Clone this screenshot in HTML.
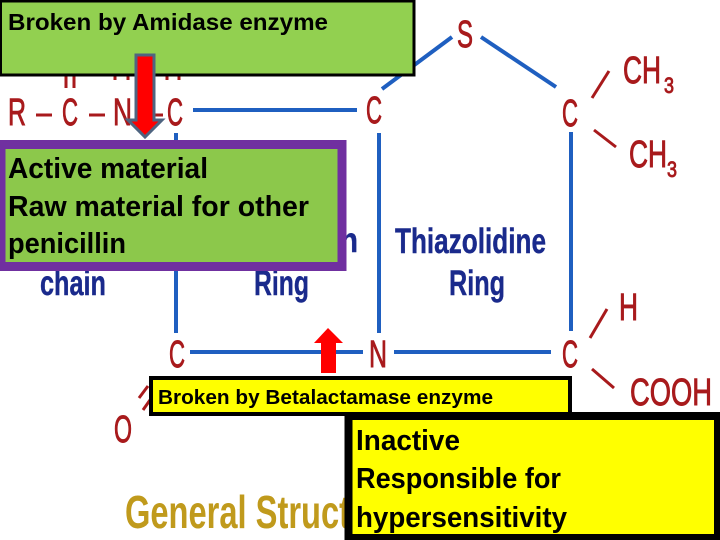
<!DOCTYPE html>
<html><head><meta charset="utf-8"><style>
html,body{margin:0;padding:0;background:#fff}
svg{display:block}
text{font-family:"Liberation Sans",sans-serif}
.r{fill:#a81a1c;stroke:#a81a1c;stroke-width:.9}
.b{fill:#1a2a8c;font-weight:bold;stroke:#1a2a8c;stroke-width:.4}
.k{fill:#000;font-weight:bold}
</style></head><body>
<svg width="720" height="540" viewBox="0 0 720 540" xmlns="http://www.w3.org/2000/svg">
<rect width="720" height="540" fill="#fff"/>
<!-- ring bonds -->
<g stroke="#1f5fc0" stroke-width="4" fill="none">
<line x1="193" y1="110" x2="357" y2="110"/>
<line x1="176" y1="133" x2="176" y2="333"/>
<line x1="379" y1="133" x2="379" y2="333"/>
<line x1="571" y1="132" x2="571" y2="331"/>
<line x1="190" y1="352" x2="363" y2="352"/>
<line x1="394" y1="352" x2="551" y2="352"/>
<line x1="382" y1="89" x2="452" y2="37"/>
<line x1="481" y1="37" x2="556" y2="87"/>
</g>
<!-- red bonds -->
<g stroke="#a81a1c" stroke-width="3" fill="none">
<line x1="592" y1="98" x2="609" y2="71"/>
<line x1="594" y1="130" x2="616" y2="147"/>
<line x1="590" y1="338" x2="607" y2="309"/>
<line x1="592" y1="369" x2="614" y2="388"/>
<line x1="139" y1="398" x2="148" y2="386"/>
<line x1="143" y1="410" x2="150" y2="400"/>
<line x1="66" y1="76" x2="66" y2="88"/>
<line x1="74" y1="76" x2="74" y2="88"/>
<line x1="115" y1="76" x2="115" y2="80"/>
<line x1="128" y1="76" x2="128" y2="80"/>
<line x1="167" y1="76" x2="167" y2="80"/>
<line x1="179" y1="76" x2="179" y2="80"/>
<line x1="36" y1="115" x2="52" y2="115"/>
<line x1="89" y1="115" x2="105" y2="115"/>
<line x1="150" y1="115" x2="163" y2="115"/>
</g>
<!-- atoms -->
<g class="r" font-size="38">
<text x="8" y="125" textLength="18" lengthAdjust="spacingAndGlyphs">R</text>
<text x="62" y="125" textLength="16" lengthAdjust="spacingAndGlyphs">C</text>
<text x="113" y="125" textLength="19" lengthAdjust="spacingAndGlyphs">N</text>
<text x="167" y="125" textLength="16" lengthAdjust="spacingAndGlyphs">C</text>
<text x="366" y="123" textLength="16" lengthAdjust="spacingAndGlyphs">C</text>
<text x="457" y="47" textLength="16" lengthAdjust="spacingAndGlyphs">S</text>
<text x="562" y="126" textLength="16" lengthAdjust="spacingAndGlyphs">C</text>
<text x="623" y="83" textLength="38" lengthAdjust="spacingAndGlyphs">CH</text>
<text x="629" y="167" textLength="38" lengthAdjust="spacingAndGlyphs">CH</text>
<text x="169" y="367" textLength="16" lengthAdjust="spacingAndGlyphs">C</text>
<text x="369" y="367" textLength="18" lengthAdjust="spacingAndGlyphs">N</text>
<text x="562" y="367" textLength="16" lengthAdjust="spacingAndGlyphs">C</text>
<text x="619" y="320" textLength="19" lengthAdjust="spacingAndGlyphs">H</text>
<text x="630" y="405" textLength="82" lengthAdjust="spacingAndGlyphs">COOH</text>
<text x="114" y="442" textLength="18" lengthAdjust="spacingAndGlyphs">O</text>
<text x="664" y="93" font-size="22" textLength="10" lengthAdjust="spacingAndGlyphs">3</text>
<text x="667" y="177" font-size="22" textLength="10" lengthAdjust="spacingAndGlyphs">3</text>
</g>
<!-- ring labels -->
<g class="b" font-size="35">
<text x="395" y="253" textLength="151" lengthAdjust="spacingAndGlyphs">Thiazolidine</text>
<text x="449" y="295" textLength="56" lengthAdjust="spacingAndGlyphs">Ring</text>
<text x="254" y="295" textLength="55" lengthAdjust="spacingAndGlyphs">Ring</text>
<text x="40" y="295" textLength="66" lengthAdjust="spacingAndGlyphs">chain</text>
<text x="340" y="252" textLength="18" lengthAdjust="spacingAndGlyphs">n</text>
</g>
<text x="125" y="528" font-size="46" font-weight="bold" fill="#c09a1c" textLength="225" lengthAdjust="spacingAndGlyphs">General Struct</text>
<!-- green box -->
<rect x="0.5" y="1" width="413.5" height="74" fill="#92d050" stroke="#000" stroke-width="3"/>
<text class="k" x="8" y="30" font-size="23" textLength="320" lengthAdjust="spacingAndGlyphs">Broken by Amidase enzyme</text>
<!-- down arrow -->
<polygon points="136,55 154,55 154,120 162,120 145,137 128,120 136,120" fill="#ff0000" stroke="#4f6480" stroke-width="3"/>
<!-- purple box -->
<rect x="1" y="144.500" width="341" height="122" fill="#8cc84b" stroke="#7030a0" stroke-width="9"/>
<g class="k" font-size="29">
<text x="8" y="178" textLength="200" lengthAdjust="spacingAndGlyphs">Active material</text>
<text x="8" y="216" textLength="301" lengthAdjust="spacingAndGlyphs">Raw material for other</text>
<text x="8" y="253" textLength="118" lengthAdjust="spacingAndGlyphs">penicillin</text>
</g>
<!-- up arrow -->
<polygon points="328,328 343,343 336,343 336,373 321,373 321,343 314,343" fill="#ff0000"/>
<!-- yellow label -->
<rect x="151" y="378" width="419" height="36" fill="#ffff00" stroke="#000" stroke-width="4"/>
<text class="k" x="158" y="404" font-size="20" textLength="335" lengthAdjust="spacingAndGlyphs">Broken by Betalactamase enzyme</text>
<!-- yellow box -->
<rect x="348.500" y="416" width="369.500" height="122" fill="#ffff00" stroke="#000" stroke-width="8"/>
<g class="k" font-size="29">
<text x="356" y="450" textLength="104" lengthAdjust="spacingAndGlyphs">Inactive</text>
<text x="356" y="488" textLength="205" lengthAdjust="spacingAndGlyphs">Responsible for</text>
<text x="356" y="527" textLength="211" lengthAdjust="spacingAndGlyphs">hypersensitivity</text>
</g>
</svg>
</body></html>
